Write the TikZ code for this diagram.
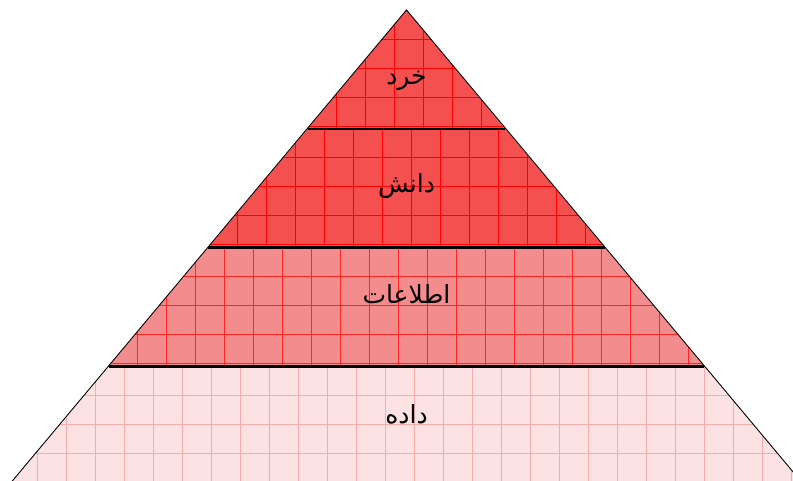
\documentclass[tikz,border=0pt]{standalone}
\usepackage{fontspec}
\newfontfamily\arabicfont[Script=Arabic]{DejaVu Sans}
\TeXXeTstate=1

\definecolor{topfill}{RGB}{244,80,80}
\definecolor{midfill}{RGB}{243,140,140}
\definecolor{lowfill}{RGB}{252,226,226}
\definecolor{lowgrid}{RGB}{244,172,172}

\begin{document}
\begin{tikzpicture}[x=1pt,y=1pt,
  sideline/.style={line width=0.9pt,black},
  layerline/.style={line width=2.2pt,black},
  cellgrid/.style={step=29pt,line width=0.9pt},
  layertext/.style={font=\arabicfont\fontsize{25}{30}\selectfont,inner sep=0pt}]
\useasboundingbox (0,0) rectangle (793,480);
% corners of the pyramid and its layers
\coordinate (apex) at (406.5,470);
\coordinate (l1) at (307.7,351.2); \coordinate (r1) at (505.3,351.2);
\coordinate (l2) at (208.1,232.4); \coordinate (r2) at (604.9,232.4);
\coordinate (l3) at (108.6,113.6); \coordinate (r3) at (704.4,113.6);
\coordinate (l4) at (8.8,-5.2);    \coordinate (r4) at (804.2,-5.2);
% wisdom
\begin{scope}[shift={(307.7,470)}]
\clip (apex) -- (r1) -- (l1) -- cycle;
\fill[topfill] (apex) -- (r1) -- (l1) -- cycle;
\draw[cellgrid,red] (0,0) grid (198,-119);
\end{scope}
% knowledge
\begin{scope}[shift={(208.1,351.2)}]
\clip (l1) -- (r1) -- (r2) -- (l2) -- cycle;
\fill[topfill] (l1) -- (r1) -- (r2) -- (l2) -- cycle;
\draw[cellgrid,red] (0,0) grid (397,-119);
\end{scope}
% information
\begin{scope}[shift={(108.6,232.4)}]
\clip (l2) -- (r2) -- (r3) -- (l3) -- cycle;
\fill[midfill] (l2) -- (r2) -- (r3) -- (l3) -- cycle;
\draw[cellgrid,red!85!white] (0,0) grid (596,-119);
\end{scope}
% data
\begin{scope}[shift={(8.8,113.6)}]
\clip (l3) -- (r3) -- (r4) -- (l4) -- cycle;
\fill[lowfill] (l3) -- (r3) -- (r4) -- (l4) -- cycle;
\draw[cellgrid,lowgrid] (0,0) grid (796,-119);
\end{scope}
% outline
\draw[sideline] (l4) -- (apex) -- (r4);
\draw[layerline] (l1) -- (r1);
\draw[layerline] (l2) -- (r2);
\draw[layerline] (l3) -- (r3);
\node[layertext] (wisdom) at (406.5,399.5) {\beginR خرد\endR};
\node[layertext] (knowledge) at (406.5,293.5) {\beginR دانش\endR};
\node[layertext] (information) at (406.5,186) {\beginR اطلاعات\endR};
\node[layertext] (data) at (406.5,65.5) {\beginR داده\endR};
\end{tikzpicture}
\end{document}
